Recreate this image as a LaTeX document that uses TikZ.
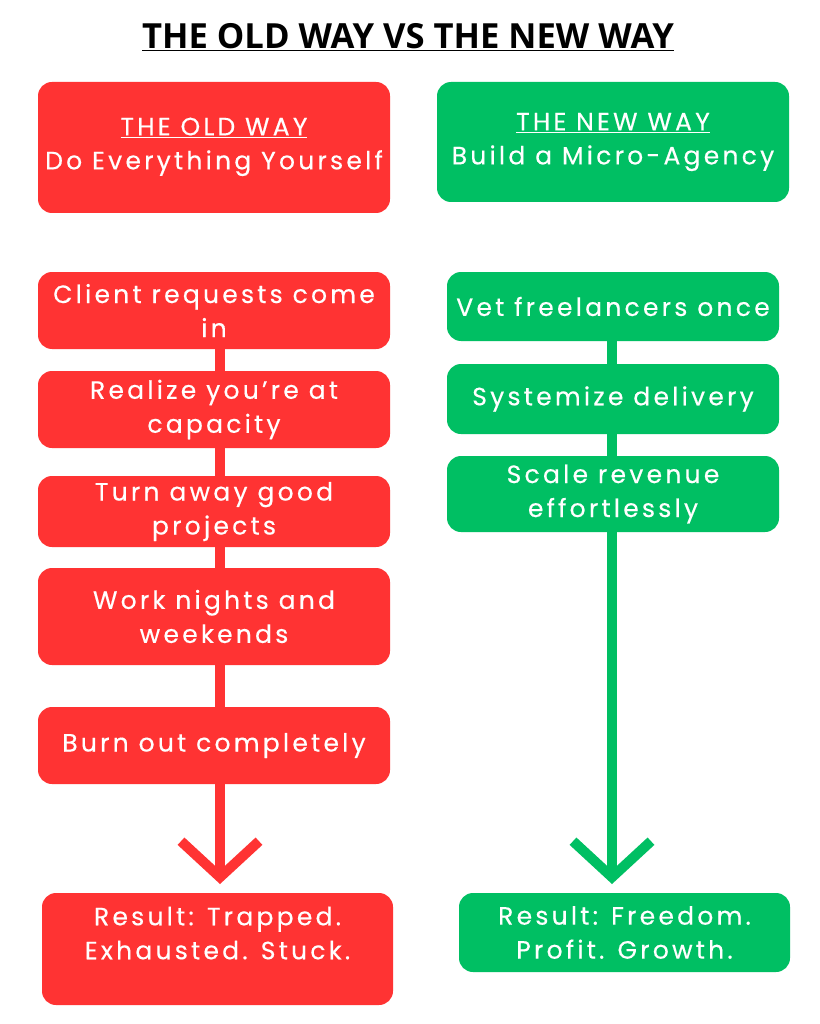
\documentclass[tikz,border=0pt]{standalone}
\usepackage{fontspec}
\setmainfont{Poppins}[LetterSpace=13,FakeBold=0.4]
\newfontfamily\titlefont{Open Sans}[BoldFont={Open Sans Bold}]
\usetikzlibrary{backgrounds,arrows.meta}
\definecolor{oldred}{HTML}{FF3333}
\definecolor{newgreen}{HTML}{00BF63}
\begin{document}
\begin{tikzpicture}[x=1pt,y=-1pt,
  box/.style={rounded corners=14pt,text=white,align=center,font=\fontsize{25}{34}\selectfont,inner sep=0pt},
  old/.style={box,fill=oldred},
  new/.style={box,fill=newgreen},
  lineold/.style={draw=oldred,line width=10pt},
  linenew/.style={draw=newgreen,line width=10pt},
  tip/.style={-{Straight Barb[length=36pt,width=78pt,line width=10pt]}}]
\useasboundingbox (0,0) rectangle (819,1024);
\node[font=\titlefont\bfseries\fontsize{34.6}{36}\selectfont] (title) at (408,37) {\underline{THE OLD WAY VS THE NEW WAY}};
\node[old,minimum width=352pt,minimum height=131pt] (oh) at (214,147.5) {\underline{THE OLD WAY}\\Do Everything Yourself\\[-26pt]~};
\node[new,minimum width=352pt,minimum height=120pt] (nh) at (613,142) {\underline{THE NEW WAY}\\Build a Micro-Agency};
\node[old,minimum width=352pt,minimum height=77pt] (l1) at (214,310.5) {Client requests come\\in};
\node[old,minimum width=352pt,minimum height=77pt] (l2) at (214,409.5) {Realize you're at\\capacity};
\node[old,minimum width=352pt,minimum height=71pt] (l3) at (214,511.5) {Turn away good\\projects};
\node[old,minimum width=352pt,minimum height=97pt] (l4) at (214,616.5) {Work nights and\\weekends};
\node[old,minimum width=352pt,minimum height=77pt] (l5) at (214,745.5) {Burn out completely};
\node[old,minimum width=351pt,minimum height=112pt] (lr) at (217.5,949) {Result: Trapped.\\Exhausted. Stuck.\\[-2pt]~};
\node[new,minimum width=332pt,minimum height=69pt] (r1) at (613,306.5) {Vet freelancers once};
\node[new,minimum width=332pt,minimum height=70pt] (r2) at (613,399) {Systemize delivery};
\node[new,minimum width=332pt,minimum height=76pt] (r3) at (613,494) {Scale revenue\\effortlessly};
\node[new,minimum width=331pt,minimum height=79pt] (rr) at (624.5,932.5) {Result: Freedom.\\Profit. Growth.};
\coordinate (la) at (220,884);
\coordinate (ra) at (612,884);
\begin{scope}[on background layer]
\fill[white] (0,0) rectangle (819,1024);
\draw[lineold] (220,349) -- (220,760);
\draw[lineold,tip] (220,760) -- (la);
\draw[linenew] (612,341) -- (612,520);
\draw[linenew,tip] (612,520) -- (ra);
\end{scope}
\end{tikzpicture}
\end{document}
